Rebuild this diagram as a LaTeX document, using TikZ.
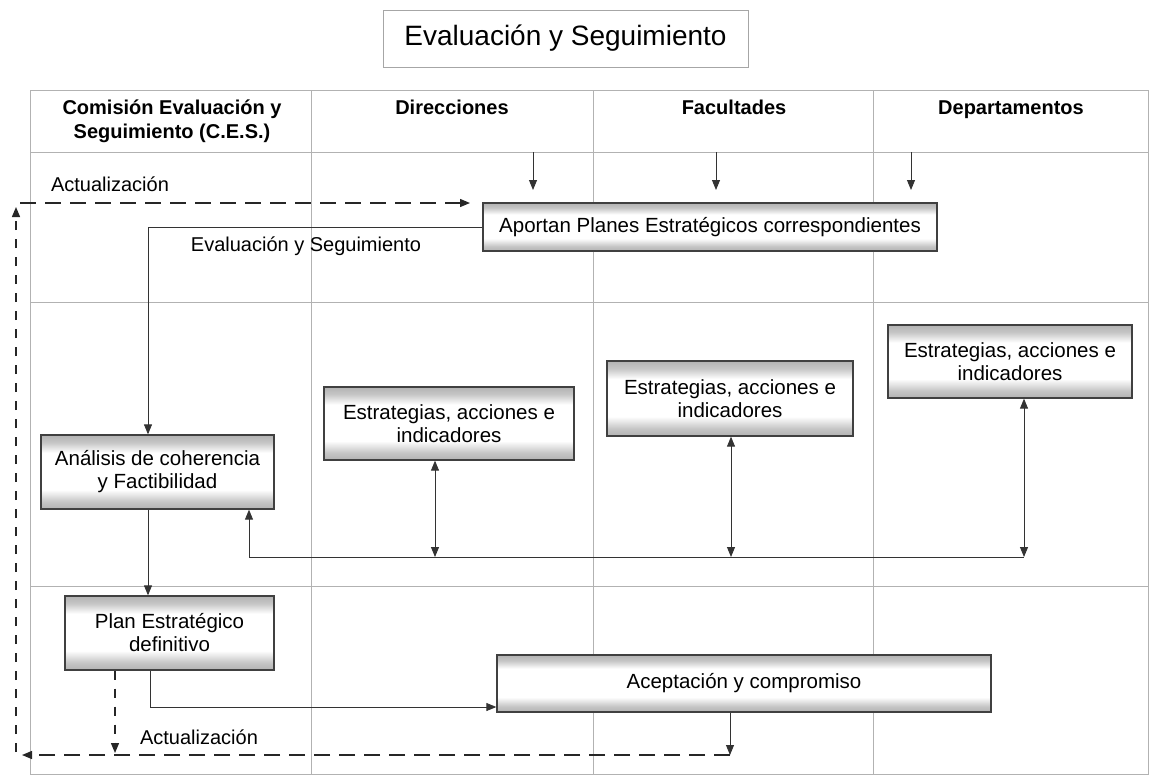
\documentclass[tikz,border=0pt]{standalone}
\usepackage{fontspec}
\setmainfont{Liberation Sans}
\usetikzlibrary{arrows.meta}
\pgfdeclareverticalshading{bandshade}{100bp}{color(0bp)=(gray!60); color(25bp)=(gray!60); color(30bp)=(gray!45); color(38bp)=(white); color(63bp)=(white); color(70bp)=(gray!45); color(75bp)=(gray!60); color(100bp)=(gray!60)}
\tikzset{
  grid/.style={draw=gray!60, line width=0.8pt},
  pbox/.style={draw=black!75, line width=1.3pt, shade, shading=bandshade, align=center,
     font=\fontsize{20.5}{23}\selectfont, inner sep=0pt},
  conn/.style={draw=black!80, line width=0.9pt},
  arr/.style={conn, -{Triangle[length=10pt,width=8pt]}},
  darr/.style={conn, {Triangle[length=10pt,width=8pt]}-{Triangle[length=10pt,width=8pt]}},
  dashline/.style={draw=black!85, line width=1.3pt, dash pattern=on 16pt off 9pt},
  vdash/.style={draw=black!85, line width=1.3pt, dash pattern=on 9pt off 9pt},
  dasharr/.style={dashline, -{Triangle[length=10pt,width=8pt]}},
  lbl/.style={font=\fontsize{20}{23}\selectfont, inner sep=0pt, text height=15pt, text depth=4pt},
  hdr/.style={font=\bfseries\fontsize{20}{23}\selectfont, align=center, inner sep=0pt, text height=15pt, text depth=4pt},
  hdrtwo/.style={font=\bfseries\fontsize{20}{24}\selectfont, align=center, inner sep=0pt},
}
\begin{document}
\begin{tikzpicture}[x=1pt,y=-1pt]
\useasboundingbox (0,0) rectangle (1157,780);
\fill[white] (0,0) rectangle (1157,780);

% title
\node[draw=gray!70, line width=0.9pt, minimum width=365pt, minimum height=57pt,
      font=\fontsize{28}{34}\selectfont, inner sep=0pt] (title) at (565.5,38.5) {Evaluación y Seguimiento};

% swimlane table
\draw[grid] (30,90) rectangle (1148,774);
\draw[grid] (30,152) -- (1148,152);
\draw[grid] (30,302) -- (1148,302);
\draw[grid] (30,586) -- (1148,586);
\draw[grid] (311,90) -- (311,774);
\draw[grid] (593,90) -- (593,774);
\draw[grid] (873,90) -- (873,774);

% headers
\node[hdrtwo] (h1) at (172,121) {Comisión Evaluación y\\Seguimiento (C.E.S.)};
\node[hdr] (h2) at (452,109) {Direcciones};
\node[hdr] (h3) at (734,109) {Facultades};
\node[hdr] (h4) at (1011,109) {Departamentos};

% boxes
\node[pbox, minimum width=454pt, minimum height=48pt] (aportan) at (710,227) {Aportan Planes Estratégicos correspondientes};
\node[pbox, minimum width=250pt, minimum height=73pt] (est1) at (449,423.5) {Estrategias, acciones e\\indicadores};
\node[pbox, minimum width=246pt, minimum height=75pt] (est2) at (730,398.5) {Estrategias, acciones e\\indicadores};
\node[pbox, minimum width=244pt, minimum height=73pt] (est3) at (1010,361.5) {Estrategias, acciones e\\indicadores};
\node[pbox, minimum width=233pt, minimum height=74pt] (analisis) at (157.5,472) {Análisis de coherencia\\y Factibilidad};
\node[pbox, minimum width=209pt, minimum height=74pt] (plan) at (169.5,633) {Plan Estratégico\\definitivo};
\node[pbox, minimum width=494pt, minimum height=57pt] (acept) at (744,683.5) {Aceptación y compromiso};

% labels
\node[lbl] (act1) at (110,186) {Actualización};
\node[lbl] (evs) at (306,246) {Evaluación y Seguimiento};
\node[lbl] (act2) at (199,739) {Actualización};

% arrows from header row down to Aportan
\coordinate (d1s) at (533,152); \coordinate (d1e) at (533,190);
\coordinate (d2s) at (716,152); \coordinate (d2e) at (716,190);
\coordinate (d3s) at (911,152); \coordinate (d3e) at (911,190);
\draw[arr] (d1s) -- (d1e);
\draw[arr] (d2s) -- (d2e);
\draw[arr] (d3s) -- (d3e);

% evaluation line
\draw[arr] (aportan.west |- 0,227) -- (148,227) -- (analisis.north -| 148,0);
% analisis -> plan
\draw[arr] (analisis.south -| 148,0) -- (plan.north -| 148,0);

% bus connector
\coordinate (busL) at (249,557);
\coordinate (b1) at (435,557);
\coordinate (b2) at (731,557);
\coordinate (b3) at (1024,557);
\draw[conn] (busL) -- (b3);
\draw[arr] (busL) -- (analisis.south -| busL);
\draw[darr] (est1.south -| b1) -- (b1);
\draw[darr] (est2.south -| b2) -- (b2);
\draw[darr] (est3.south -| b3) -- (b3);

% plan -> aceptacion
\coordinate (pk) at (150,707);
\draw[arr] (plan.south -| pk) -- (pk) -- (acept.west |- pk);
% plan dashed down
\coordinate (pd) at (115,753);
\draw[vdash, -{Triangle[length=10pt,width=8pt]}] (plan.south -| pd) -- (pd);

% feedback loop
\coordinate (fa) at (730,755);
\coordinate (fb) at (22,755);
\coordinate (fc) at (16,752);
\coordinate (fd) at (16,207);
\coordinate (fe) at (20,203);
\coordinate (ff) at (470,203);
\draw[arr] (acept.south -| fa) -- (fa);
\draw[dasharr] (fa) -- (fb);
\draw[vdash, -{Triangle[length=10pt,width=8pt]}] (fc) -- (fd);
\draw[dasharr] (fe) -- (ff);
\end{tikzpicture}
\end{document}
